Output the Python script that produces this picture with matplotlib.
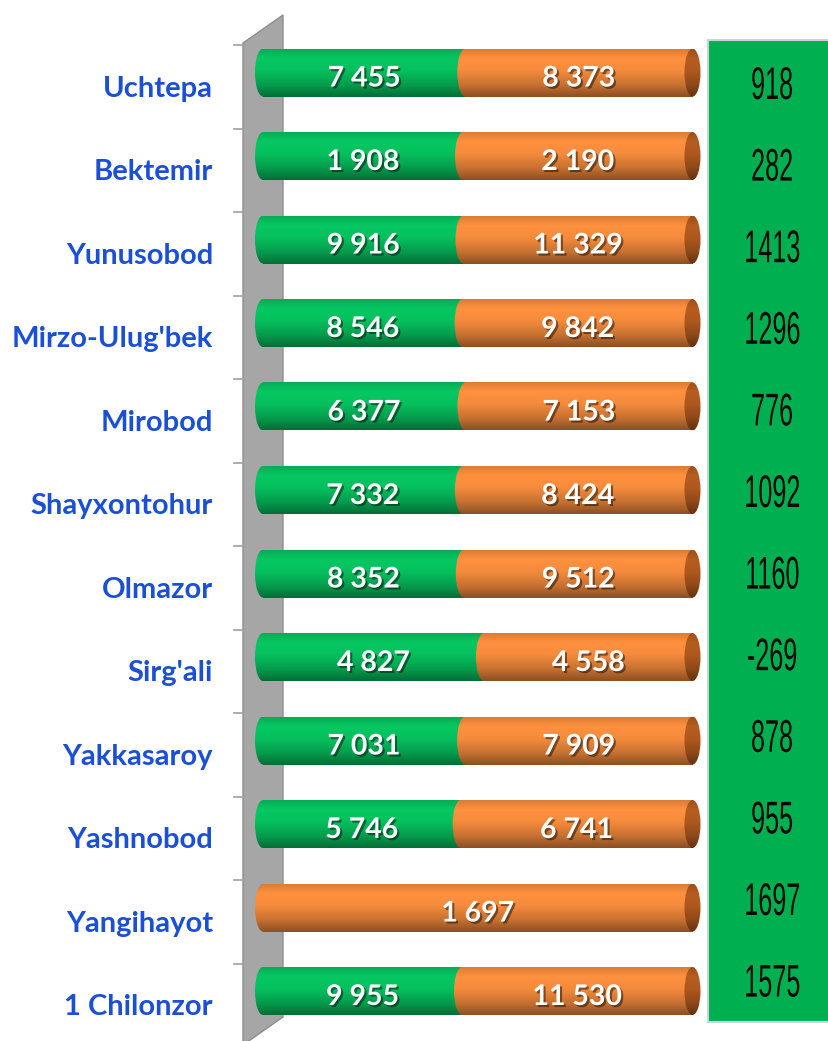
import matplotlib
matplotlib.use("Agg")
import matplotlib.pyplot as plt
import matplotlib.patheffects as pe
import matplotlib.transforms as mtransforms
from matplotlib.patches import Ellipse, Polygon, Rectangle
import numpy as np
from matplotlib.colors import to_rgb

# ---------------- data ----------------
districts = ["Uchtepa", "Bektemir", "Yunusobod", "Mirzo-Ulug'bek", "Mirobod",
             "Shayxontohur", "Olmazor", "Sirg'ali", "Yakkasaroy", "Yashnobod",
             "Yangihayot", "1 Chilonzor"]
green_vals = [7455, 1908, 9916, 8546, 6377, 7332, 8352, 4827, 7031, 5746, 0, 9955]
orange_vals = [8373, 2190, 11329, 9842, 7153, 8424, 9512, 4558, 7909, 6741, 1697, 11530]
diff_labels = ["918", "282", "1413", "1296", "776", "1092", "1160", "-269",
               "878", "955", "1697", "1575"]

W, H = 829, 1041
fig = plt.figure(figsize=(W / 100, H / 100), dpi=100)
fig.patch.set_facecolor("white")

def fx(px):
    return px / W

def fy(py):
    return 1 - py / H


class Squeeze(pe.AbstractPathEffect):
    """Draw text narrower (condensed look) around its own centre."""
    def __init__(self, sx=0.55):
        super().__init__()
        self.sx = sx

    def draw_path(self, renderer, gc, tpath, affine, rgbFace=None):
        ext = affine.transform_path(tpath).get_extents()
        cx = (ext.x0 + ext.x1) / 2
        new = affine + mtransforms.Affine2D().translate(-cx, 0).scale(self.sx, 1).translate(cx, 0)
        renderer.draw_path(gc, tpath, new, rgbFace)


# axes geometry (pixels)
x0_px, x1_px = 263.0, 692.5
ax_l, ax_r = 243.0, 708.0
row0, step = 72.5, 83.5
ax_top = row0 - step / 2
ax_bot = row0 + 11.5 * step
ax = fig.add_axes([fx(ax_l), fy(ax_bot), (ax_r - ax_l) / W, (ax_bot - ax_top) / H])
ax.set_zorder(3)
ax.set_xlim(-(x0_px - ax_l) / (x1_px - x0_px), (ax_r - x0_px) / (x1_px - x0_px))
ax.set_ylim(11.5, -0.5)
ax.axis("off")
ax.patch.set_alpha(0)

# ---------------- wall ----------------
wall = Polygon([(fx(243), fy(43)), (fx(283), fy(15)), (fx(283), fy(1017)),
                (fx(243), fy(1045))], closed=True, transform=fig.transFigure,
               facecolor="#A6A6A6", edgecolor="#8E8E8E", linewidth=1.0, zorder=0.5)
fig.patches.append(wall)
for i in range(13):
    ty = row0 + i * step - 27.5
    if ty > H:
        continue
    fig.add_artist(plt.Line2D([fx(234), fx(243)], [fy(ty), fy(ty)],
                              transform=fig.transFigure, color="#A0A0A0", lw=1.2))

# ---------------- green panel ----------------
panel = Rectangle((fx(708), fy(1022)), fx(829 - 708) + 0.01, (1022 - 40) / H,
                  transform=fig.transFigure, facecolor="#00B050",
                  edgecolor="#C9D3DC", linewidth=1.5, zorder=0.5)
fig.patches.append(panel)

# ---------------- bars ----------------
totals = [g + o for g, o in zip(green_vals, orange_vals)]
g_frac = [g / t for g, t in zip(green_vals, totals)]
o_frac = [o / t for o, t in zip(orange_vals, totals)]
ypos = np.arange(len(districts))
bh = 48 / step
ew = 16 / (x1_px - x0_px)

green_base = "#06C862"
orange_base = "#FF913F"
cap_base = "#B65C20"

prof_pos = np.array([0.0, 0.2, 0.45, 0.75, 1.0])
prof_val = np.array([0.86, 1.0, 0.96, 0.78, 0.55])
tt = np.linspace(0, 1, 64)
prof = np.interp(tt, prof_pos, prof_val)

def grad(color):
    c = np.array(to_rgb(color))
    arr = np.clip(prof[:, None] * c[None, :], 0, 1)
    return arr[:, None, :]

def shade(patch, color, z, xlo, xhi, yc):
    ax.imshow(grad(color), extent=(xlo, xhi, yc + bh / 2, yc - bh / 2),
              origin="upper", aspect="auto", zorder=z, clip_path=patch,
              interpolation="bilinear")

gbars = ax.barh(ypos, g_frac, height=bh, color=green_base, zorder=1)
obars = ax.barh(ypos, o_frac, left=g_frac, height=bh, color=orange_base, zorder=1)

for i in range(len(districts)):
    yc = ypos[i]
    z = 2 + i * 0.01
    gp, op = gbars[i], obars[i]
    if g_frac[i] > 0:
        gp.set_facecolor("none")
        shade(gp, green_base, z, 0, g_frac[i], yc)
        e = Ellipse((0, yc), ew, bh, facecolor="none", edgecolor="none")
        ax.add_patch(e)
        shade(e, green_base, z + 0.001, -ew, ew, yc)
    op.set_facecolor("none")
    shade(op, orange_base, z + 0.002, g_frac[i], 1, yc)
    e2 = Ellipse((g_frac[i], yc), ew, bh, facecolor="none", edgecolor="none")
    ax.add_patch(e2)
    shade(e2, orange_base, z + 0.003, g_frac[i] - ew, g_frac[i] + ew, yc)
    e3 = Ellipse((1, yc), ew, bh, facecolor="none", edgecolor="none")
    ax.add_patch(e3)
    shade(e3, cap_base, z + 0.004, 1 - ew, 1 + ew, yc)

# ---------------- labels ----------------
shadow = [pe.SimplePatchShadow(offset=(1.5, -1.5), shadow_rgbFace="black", alpha=0.45),
          pe.Normal()]

def fmt(v):
    return f"{v:,}".replace(",", " ")

lab_off = 6 / step
for i in range(len(districts)):
    if green_vals[i] > 0:
        ax.text(g_frac[i] / 2, ypos[i] + lab_off, fmt(green_vals[i]), ha="center",
                va="center", color="white", fontsize=20.5, fontweight="bold",
                family="Lato", zorder=5, path_effects=shadow)
    ax.text(g_frac[i] + o_frac[i] / 2, ypos[i] + lab_off, fmt(orange_vals[i]),
            ha="center", va="center", color="white", fontsize=20.5,
            fontweight="bold", family="Lato", zorder=5, path_effects=shadow)

btrans = mtransforms.blended_transform_factory(fig.transFigure, ax.transData)
for i, name in enumerate(districts):
    ax.text(fx(213), ypos[i] + 16 / step, name, transform=btrans, ha="right",
            va="center", color="#1A4FD6", fontsize=21, fontweight="bold",
            family="Lato", clip_on=False)

for i, s in enumerate(diff_labels):
    fig.text(fx(772), fy(87 + 81.6 * i), s, ha="center", va="center",
             color="#0A0A0A", family="Liberation Sans", fontsize=33, zorder=4,
             path_effects=[Squeeze(0.55)])

fig.savefig("out.png", dpi=100, facecolor="white")
